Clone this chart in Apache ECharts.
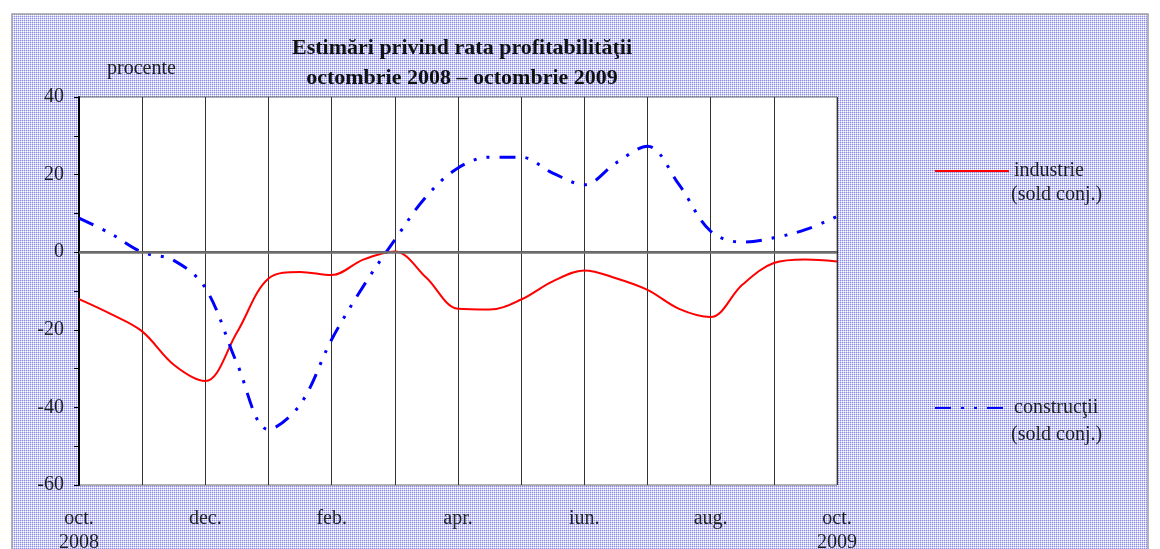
<!DOCTYPE html>
<html>
<head>
<meta charset="utf-8">
<script src="https://cdn.jsdelivr.net/npm/echarts@6/dist/echarts.min.js"></script>
<style>
  html, body { margin: 0; padding: 0; background: #fff; }
  #chart { width: 1160px; height: 549px; }
</style>
</head>
<body>
<div id="chart"></div>
<script>
// axa X: jumătăți de lună, oct. 2008 – oct. 2009
const luni = [
  'oct.\n2008', '', 'nov.', '', 'dec.', '', 'ian.', '', 'feb.', '', 'mar.', '', 'apr.', '',
  'mai', '', 'iun.', '', 'iul.', '', 'aug.', '', 'sep.', '', 'oct.\n2009'
];

// industrie (sold conj.)
const industrie = [
  -12.1, -15.9, -20.4, -29.0, -33.2, -20.7, -6.8, -5.1, -5.9,
  -1.9, 0.2, -6.6, -14.6, -14.8, -12.2, -7.5, -4.7,
  -6.7, -9.7, -14.6, -16.7, -8.4, -2.8, -1.9, -2.4
];

// construcţii (sold conj.)
const constructii = [
  8.8, 4.8, 0, -2.1, -9.2, -28.6, -45.7, -39.3, -22.5,
  -8.8, 3.2, 14.4, 21.7, 24.5, 24.5, 20.4, 17.4,
  23.0, 27.3, 17.4, 5.4, 2.6, 3.7, 5.8, 9.2
];

const yTicks = [40, 20, 0, -20, -40, -60];

// fundal punctat
const pat = document.createElement('canvas');
pat.width = 2; pat.height = 2;
const pc = pat.getContext('2d');
pc.fillStyle = '#ffffff';
pc.fillRect(0, 0, 2, 2);
pc.fillStyle = '#d2d2f8';
pc.fillRect(1, 0, 1, 1);
pc.fillRect(0, 1, 1, 1);
pc.fillStyle = '#8a8aec';
pc.fillRect(0, 0, 1, 1);

const serif = 'Liberation Serif';
const chart = echarts.init(document.getElementById('chart'));

const legendCommon = {
  icon: 'inherit',
  left: 929,
  itemWidth: 74, itemHeight: 20, itemGap: 0,
  itemStyle: { color: 'rgba(0,0,0,0)', borderWidth: 0, opacity: 0 },
  textStyle: { fontFamily: serif, fontSize: 20, color: '#222' }
};

chart.setOption({
  backgroundColor: '#fff',
  animation: false,
  textStyle: { fontFamily: serif },
  title: {
    text: 'Estimări privind rata profitabilităţii\noctombrie 2008 – octombrie 2009',
    left: 457,
    top: 28,
    textAlign: 'center',
    textStyle: { fontFamily: serif, fontWeight: 'bold', fontSize: 22, lineHeight: 30, color: '#111' }
  },
  graphic: [
    {
      type: 'rect', z: -10, silent: true,
      shape: { x: 12, y: 14, width: 1136, height: 545 },
      style: { fill: { image: pat, repeat: 'repeat' }, stroke: '#a0a0a0', lineWidth: 1.5 }
    },
    {
      type: 'text', left: 107, top: 59,
      style: { text: 'procente', font: '20px "Liberation Serif"', fill: '#222' }
    },
    {
      type: 'text', left: 1011, top: 185,
      style: { text: '(sold conj.)', font: '20px "Liberation Serif"', fill: '#222' }
    },
    {
      type: 'text', left: 1011, top: 425,
      style: { text: '(sold conj.)', font: '20px "Liberation Serif"', fill: '#222' }
    }
  ],
  legend: [
    Object.assign({ data: ['industrie'], top: 156 }, legendCommon),
    Object.assign({ data: ['construcţii'], top: 393 }, legendCommon)
  ],
  grid: {
    left: 79, right: 323, top: 97, bottom: 64,
    outerBoundsMode: 'none',
    containLabel: false,
    show: true, backgroundColor: '#fff', borderColor: '#666', borderWidth: 1
  },
  xAxis: {
    type: 'category',
    data: luni,
    boundaryGap: false,
    axisLine: { lineStyle: { color: '#000', width: 1.5 } },
    axisTick: { show: false },
    axisLabel: {
      interval: (i) => i % 4 === 0,
      margin: 22,
      fontFamily: serif, fontSize: 20, lineHeight: 24, color: '#222'
    },
    splitLine: {
      show: true,
      interval: (i) => i % 2 === 0,
      lineStyle: { color: '#333', width: 1 }
    }
  },
  yAxis: {
    type: 'value',
    min: -60, max: 40, interval: 20,
    axisLine: { show: true, lineStyle: { color: '#000', width: 2 } },
    axisTick: { show: true, length: 5, lineStyle: { color: '#000' } },
    minorTick: { show: true, splitNumber: 2, length: 5, lineStyle: { color: '#000' } },
    axisLabel: {
      margin: 15,
      fontFamily: serif, fontSize: 20, color: '#222',
      formatter: (v) => yTicks.includes(v) ? String(v) : ''
    },
    splitLine: { show: false }
  },
  series: [
    {
      name: 'industrie',
      type: 'line',
      data: industrie,
      smooth: 0.35,
      symbol: 'none',
      lineStyle: { color: '#ff0000', width: 2 },
      itemStyle: { color: '#ff0000' },
      markLine: {
        silent: true,
        symbol: 'none',
        label: { show: false },
        lineStyle: { color: '#707070', width: 2.5, type: 'solid' },
        data: [{ yAxis: 0 }]
      },
      z: 3
    },
    {
      name: 'construcţii',
      type: 'line',
      data: constructii,
      smooth: 0.35,
      symbol: 'none',
      lineStyle: { color: '#0000ff', width: 3, type: [16, 10, 3, 10, 3, 10] },
      itemStyle: { color: '#0000ff' },
      z: 4
    }
  ]
});
</script>
</body>
</html>
